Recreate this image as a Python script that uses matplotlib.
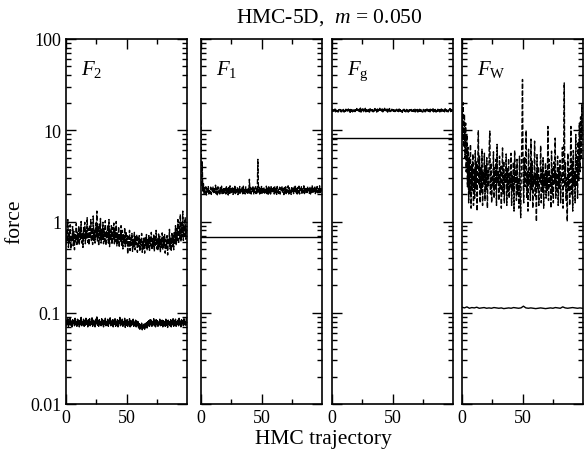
import numpy as np
import matplotlib
matplotlib.use('Agg')
import matplotlib.pyplot as plt
from matplotlib.ticker import LogLocator, NullFormatter, FixedLocator

plt.rcParams['font.family'] = ['Liberation Serif', 'DejaVu Serif']
plt.rcParams['mathtext.fontset'] = 'custom'
plt.rcParams['mathtext.rm'] = 'Liberation Serif'
plt.rcParams['mathtext.it'] = 'Liberation Serif:italic'

# ---- data (one value per half trajectory) ----
F2_dash = [
    0.55, 0.80, 0.60, 1.05, 0.52, 0.74, 0.58, 0.92, 0.50, 0.70, 0.62, 0.88, 0.54, 0.78, 0.49, 0.72, 0.60, 0.95, 0.56, 0.76,
    0.60, 0.90, 0.55, 0.82, 0.64, 1.00, 0.58, 0.76, 0.52, 0.86, 0.63, 0.98, 0.57, 0.80, 0.66, 1.10, 0.59, 0.84, 0.55, 0.92,
    0.65, 1.05, 0.60, 0.85, 0.56, 1.15, 0.62, 0.80, 0.58, 0.96, 0.68, 1.30, 0.60, 0.88, 0.54, 0.94, 0.63, 1.08, 0.58, 0.82,
    0.64, 0.98, 0.57, 0.84, 0.61, 1.02, 0.55, 0.78, 0.66, 0.92, 0.58, 1.05, 0.53, 0.80, 0.62, 0.90, 0.56, 0.86, 0.64, 0.96,
    0.57, 0.82, 0.60, 1.00, 0.54, 0.76, 0.59, 0.88, 0.52, 0.74, 0.61, 0.90, 0.55, 0.80, 0.50, 0.72, 0.58, 0.86, 0.53, 0.78,
    0.56, 0.70, 0.44, 0.68, 0.52, 0.80, 0.48, 0.66, 0.55, 0.74, 0.47, 0.64, 0.53, 0.76, 0.49, 0.68, 0.56, 0.72, 0.46, 0.66,
    0.52, 0.70, 0.47, 0.64, 0.55, 0.74, 0.46, 0.62, 0.50, 0.68, 0.45, 0.66, 0.53, 0.72, 0.48, 0.63, 0.51, 0.70, 0.47, 0.67,
    0.54, 0.76, 0.49, 0.65, 0.52, 0.71, 0.47, 0.68, 0.55, 0.80, 0.50, 0.66, 0.48, 0.73, 0.53, 0.69, 0.46, 0.64, 0.52, 0.75,
    0.49, 0.68, 0.54, 0.72, 0.45, 0.63, 0.51, 0.70, 0.43, 0.66, 0.55, 0.82, 0.50, 0.67, 0.47, 0.74, 0.53, 0.70, 0.49, 0.78,
    0.58, 0.90, 0.55, 0.84, 0.62, 1.05, 0.57, 0.88, 0.65, 1.20, 0.60, 0.95, 0.68, 1.30, 0.62, 0.92, 0.70, 1.10, 0.64, 0.85,
]
F2_solid = [
    0.072, 0.083, 0.075, 0.086, 0.071, 0.080, 0.074, 0.088, 0.073, 0.081, 0.070, 0.084, 0.076, 0.082, 0.072, 0.087, 0.074, 0.080, 0.071, 0.085,
    0.075, 0.083, 0.070, 0.081, 0.074, 0.089, 0.072, 0.080, 0.076, 0.085, 0.071, 0.082, 0.073, 0.087, 0.075, 0.081, 0.070, 0.084, 0.074, 0.086,
    0.072, 0.080, 0.075, 0.088, 0.071, 0.083, 0.074, 0.081, 0.070, 0.085, 0.076, 0.090, 0.073, 0.082, 0.071, 0.084, 0.075, 0.080, 0.072, 0.086,
    0.074, 0.083, 0.070, 0.081, 0.075, 0.087, 0.072, 0.080, 0.073, 0.085, 0.071, 0.082, 0.076, 0.088, 0.072, 0.081, 0.074, 0.084, 0.070, 0.083,
    0.075, 0.086, 0.071, 0.080, 0.073, 0.084, 0.070, 0.082, 0.076, 0.089, 0.072, 0.081, 0.074, 0.085, 0.071, 0.080, 0.075, 0.087, 0.069, 0.082,
    0.073, 0.084, 0.071, 0.080, 0.075, 0.086, 0.070, 0.082, 0.072, 0.081, 0.074, 0.085, 0.071, 0.079, 0.073, 0.083, 0.070, 0.081, 0.072, 0.080,
    0.068, 0.076, 0.066, 0.074, 0.069, 0.077, 0.065, 0.073, 0.068, 0.075, 0.066, 0.076, 0.070, 0.078, 0.068, 0.080, 0.072, 0.082, 0.071, 0.084,
    0.074, 0.083, 0.071, 0.080, 0.075, 0.086, 0.072, 0.081, 0.070, 0.084, 0.074, 0.082, 0.071, 0.079, 0.075, 0.085, 0.072, 0.081, 0.073, 0.083,
    0.070, 0.082, 0.074, 0.080, 0.071, 0.085, 0.073, 0.081, 0.069, 0.083, 0.075, 0.080, 0.072, 0.084, 0.070, 0.081, 0.074, 0.086, 0.071, 0.082,
    0.073, 0.085, 0.071, 0.080, 0.075, 0.083, 0.072, 0.087, 0.074, 0.081, 0.070, 0.084, 0.076, 0.082, 0.072, 0.086, 0.074, 0.080, 0.073, 0.088,
]
F1_dash = [
    13.0, 2.4, 4.5, 2.1, 2.6, 2.0, 2.35, 2.05, 2.4, 1.95, 2.3, 2.1, 2.45, 2.0, 2.25, 2.05, 2.38, 1.98, 2.3, 2.08,
    2.42, 2.0, 2.28, 2.1, 2.5, 2.02, 2.32, 1.96, 2.4, 2.06, 2.26, 2.0, 2.36, 2.1, 2.44, 2.02, 2.3, 1.98, 2.38, 2.06,
    2.3, 2.0, 2.4, 2.08, 2.28, 1.95, 2.36, 2.04, 2.46, 2.0, 2.3, 2.1, 2.4, 1.98, 2.32, 2.06, 2.5, 2.02, 2.28, 2.1,
    2.38, 1.97, 2.3, 2.05, 2.42, 2.0, 2.26, 2.08, 2.36, 1.96, 2.44, 2.04, 2.3, 2.0, 2.4, 2.1, 2.28, 1.98, 2.34, 2.06,
    2.9, 2.04, 2.36, 2.0, 2.3, 2.08, 2.45, 1.98, 2.34, 2.1, 2.4, 2.02, 2.28, 2.06, 4.8, 2.1, 2.38, 2.0, 2.3, 2.06,
    2.42, 1.98, 2.3, 2.08, 2.36, 2.0, 2.28, 2.1, 2.44, 2.02, 2.32, 1.96, 2.4, 2.06, 2.3, 2.0, 2.46, 2.04, 2.28, 2.1,
    2.36, 2.0, 2.4, 2.06, 2.3, 1.98, 2.42, 2.08, 2.28, 2.02, 2.38, 2.0, 2.32, 2.1, 2.44, 2.04, 2.3, 1.97, 2.36, 2.06,
    2.4, 2.02, 2.3, 2.1, 2.46, 2.0, 2.34, 2.06, 2.28, 1.98, 2.42, 2.08, 2.3, 2.02, 2.38, 2.1, 2.5, 2.04, 2.32, 2.0,
    2.36, 2.06, 2.44, 2.0, 2.3, 2.1, 2.4, 1.98, 2.34, 2.08, 2.46, 2.02, 2.3, 2.06, 2.38, 2.0, 2.42, 2.1, 2.3, 2.04,
    2.4, 2.0, 2.34, 2.08, 2.5, 2.04, 2.3, 2.12, 2.44, 2.02, 2.36, 2.1, 2.42, 2.06, 2.3, 2.0, 2.46, 2.08, 2.38, 2.12,
]
F1_ref = 0.68
Fg_dash = [
    16.0, 16.9, 15.8, 16.7, 16.2, 17.1, 15.9, 16.6, 16.1, 17.0, 15.8, 16.8, 16.3, 16.9, 16.0, 17.2, 15.9, 16.7, 16.2, 16.9,
    15.8, 16.8, 16.1, 17.0, 15.9, 16.6, 16.2, 17.1, 16.0, 16.8, 15.7, 16.9, 16.1, 17.0, 15.9, 16.7, 16.3, 17.2, 16.0, 16.8,
    16.1, 17.3, 15.9, 16.8, 16.2, 17.0, 16.0, 17.5, 15.8, 16.9, 16.1, 17.2, 16.0, 16.7, 16.3, 17.4, 15.9, 16.8, 16.2, 17.1,
    16.0, 16.9, 15.8, 17.2, 16.1, 16.8, 16.3, 17.5, 15.9, 16.9, 16.2, 17.3, 16.0, 16.8, 15.8, 17.1, 16.1, 16.9, 16.3, 17.4,
    16.0, 16.8, 16.2, 17.2, 15.9, 16.9, 16.1, 17.4, 16.0, 16.7, 16.2, 17.1, 15.8, 16.9, 16.1, 17.3, 16.0, 16.8, 16.3, 17.0,
    15.9, 16.8, 16.1, 17.2, 16.0, 16.7, 15.8, 17.0, 16.2, 16.9, 16.0, 17.1, 15.9, 16.8, 16.1, 16.9, 15.7, 16.7, 16.0, 17.0,
    16.1, 16.8, 15.9, 16.9, 16.0, 16.7, 15.8, 17.0, 16.2, 16.8, 15.9, 16.9, 16.1, 16.6, 15.8, 16.8, 16.0, 17.0, 15.9, 16.7,
    16.0, 16.9, 15.8, 16.7, 16.1, 17.0, 15.9, 16.8, 16.0, 16.6, 15.8, 16.9, 16.2, 16.7, 15.9, 16.8, 16.0, 17.1, 15.8, 16.7,
    16.1, 16.9, 15.9, 17.0, 16.0, 16.7, 16.2, 17.2, 15.9, 16.8, 16.0, 16.9, 15.8, 16.7, 16.1, 17.0, 16.0, 16.8, 15.9, 16.9,
    16.0, 17.1, 15.8, 16.8, 16.2, 16.9, 15.9, 17.2, 16.1, 16.8, 16.0, 17.0, 15.9, 16.7, 16.2, 17.3, 16.0, 16.9, 16.1, 17.0,
]
Fg_ref = 8.2
FW_dash = [
    16.0, 8.0, 20.0, 6.5, 15.0, 5.0, 12.0, 3.5, 9.0, 2.4, 6.5, 1.6, 5.0, 2.0, 7.0, 1.4, 4.2, 2.2, 5.5, 1.5,
    3.8, 1.8, 6.0, 2.3, 4.5, 1.3, 3.6, 10.0, 2.5, 5.2, 1.6, 3.9, 2.1, 6.2, 1.5, 3.4, 2.6, 5.6, 1.7, 4.1,
    2.2, 5.0, 1.4, 3.6, 2.4, 6.8, 9.8, 2.0, 4.4, 1.6, 3.2, 2.5, 5.8, 1.8, 3.9, 2.2, 4.8, 1.5, 7.0, 2.6,
    3.5, 1.7, 5.2, 2.3, 4.0, 1.4, 3.1, 6.4, 2.0, 4.6, 1.6, 3.3, 2.7, 5.5, 1.5, 3.8, 2.1, 4.9, 1.8, 3.4,
    2.4, 5.6, 1.5, 3.2, 2.2, 4.5, 1.3, 6.0, 2.6, 3.7, 1.7, 4.8, 2.0, 3.0, 1.4, 5.2, 2.3, 1.1, 3.6, 8.5,
    36.0, 3.0, 1.6, 5.0, 2.4, 4.2, 10.0, 1.8, 3.5, 1.3, 6.2, 2.5, 3.9, 1.7, 8.0, 2.2, 4.6, 1.4, 3.2, 2.6,
    7.6, 1.9, 3.4, 1.0, 5.4, 2.3, 4.0, 1.5, 3.1, 2.7, 6.8, 1.6, 3.7, 2.1, 5.0, 1.4, 3.3, 2.5, 4.4, 1.8,
    3.6, 2.2, 11.0, 1.7, 4.8, 2.4, 3.2, 1.4, 5.9, 2.0, 3.8, 1.6, 4.5, 2.6, 8.2, 1.8, 3.4, 2.2, 5.2, 1.5,
    3.9, 2.3, 4.7, 1.6, 3.2, 2.8, 6.5, 1.4, 3.6, 33.0, 2.4, 4.4, 1.7, 3.0, 1.0, 5.6, 2.2, 3.8, 1.5, 4.2,
    11.0, 2.0, 4.6, 1.3, 6.0, 2.5, 3.5, 1.6, 9.0, 2.4, 5.2, 1.8, 7.5, 2.8, 12.0, 3.5, 14.0, 5.0, 19.0, 8.0,
]
FW_solid = [
    0.115, 0.113, 0.116, 0.112, 0.114, 0.113, 0.115, 0.112, 0.113, 0.114,
    0.112, 0.113, 0.112, 0.114, 0.113, 0.112, 0.113, 0.111, 0.112, 0.113,
    0.112, 0.114, 0.113, 0.112, 0.113, 0.118, 0.113, 0.112, 0.113, 0.112,
    0.111, 0.112, 0.113, 0.112, 0.111, 0.112, 0.113, 0.112, 0.114, 0.113,
    0.112, 0.116, 0.113, 0.112, 0.113, 0.114, 0.113, 0.112, 0.113, 0.112,
]

panel_labels = [r'$F_2$', r'$F_1$', r'$F_{\rm g}$', r'$F_{\rm W}$']
ytick_vals = [0.01, 0.1, 1, 10, 100]
ytick_text = ['0.01', '0.1', '1', '10', '100']

W, H = 584, 456
fig = plt.figure(figsize=(W / 100, H / 100), dpi=100)

lefts = [66, 201, 332, 462]
pw = 121
bot, top = 405, 40

def traj(vals):
    return np.linspace(0, 99.5, len(vals))

axes = []
for i, lx in enumerate(lefts):
    ax = fig.add_axes([lx / W, (H - bot) / H, pw / W, (bot - top) / H])
    ax.set_yscale('log')
    ax.set_ylim(0.01, 100)
    ax.set_xlim(0, 100)
    ax.xaxis.set_major_locator(FixedLocator([0, 50]))
    ax.xaxis.set_minor_locator(FixedLocator([25, 75]))
    ax.yaxis.set_major_locator(LogLocator(base=10, numticks=10))
    ax.yaxis.set_minor_locator(LogLocator(base=10, subs=np.arange(2, 10), numticks=10))
    ax.yaxis.set_minor_formatter(NullFormatter())
    ax.tick_params(which='both', direction='in', top=True, right=True, width=1)
    ax.tick_params(which='major', length=7, labelsize=13)
    ax.tick_params(which='minor', length=3.5)
    for s in ax.spines.values():
        s.set_linewidth(1.2)
    if i == 0:
        ax.set_yticks(ytick_vals)
        ax.set_yticklabels(ytick_text)
    else:
        ax.set_yticklabels([])
    ax.text(0.12, 0.905, panel_labels[i], transform=ax.transAxes,
            fontsize=15, ha='left', va='baseline')
    axes.append(ax)

dash = (0, (3.5, 1.4))
lw = 1.0
axes[0].plot(traj(F2_dash), F2_dash, color='black', lw=lw, ls=dash)
axes[0].plot(traj(F2_solid), F2_solid, color='black', lw=lw)
axes[1].plot(traj(F1_dash), F1_dash, color='black', lw=lw, ls=dash)
axes[1].axhline(F1_ref, color='black', lw=lw)
axes[2].plot(traj(Fg_dash), Fg_dash, color='black', lw=lw, ls=dash)
axes[2].axhline(Fg_ref, color='black', lw=lw)
axes[3].plot(traj(FW_dash), FW_dash, color='black', lw=lw, ls=dash)
axes[3].plot(traj(FW_solid), FW_solid, color='black', lw=lw)

fig.text(329 / W, 1 - 18 / H, r'HMC-5D,  $m$ = 0.050', ha='center', va='center', fontsize=15.5)
fig.text(323 / W, 1 - 440 / H, 'HMC trajectory', ha='center', va='center', fontsize=15.5)
fig.text(15 / W, 1 - 222 / H, 'force', ha='center', va='center', rotation=90, fontsize=15.5)

fig.savefig('out.png', dpi=100)
